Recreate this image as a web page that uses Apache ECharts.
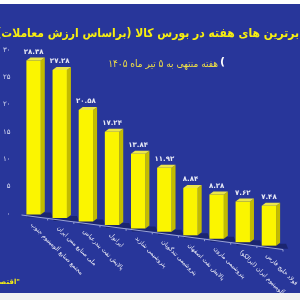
<!DOCTYPE html>
<html dir="rtl">
<head>
<meta charset="utf-8">
<script src="https://cdn.jsdelivr.net/npm/echarts@6/dist/echarts.min.js"></script>
<style>
  html, body { margin: 0; padding: 0; background: #28369a; }
  #chart { width: 300px; height: 300px; }
</style>
</head>
<body>
<div id="chart"></div>
<script>
const titleText = "برترین های هفته در بورس کالا (براساس ارزش معاملات)";
const subtitleText = "هفته منتهی به ۵ تیر ماه ۱۴۰۵";
const sourceText = "\"اقتصاد برخط\"";

const companies = [
  "مجتمع صنایع آلومینیوم جنوب",
  "ملی صنایع مس ایران",
  "پالایش نفت بندرعباس",
  "ایرانول",
  "پتروشیمی شازند",
  "پتروشیمی تندگویان",
  "پالایش نفت اصفهان",
  "پتروشیمی مارون",
  "آلومینیوم ایران (ایرالکو)",
  "فولاد خلیج فارس"
];
const values = [28.38, 27.28, 20.58, 17.24, 13.84, 11.92, 8.84, 8.28, 7.62, 7.48];
const yMin = 0, yMax = 30, yStep = 5;

const faDigits = "۰۱۲۳۴۵۶۷۸۹";
const toFa = (s) => String(s).replace(/\d/g, (d) => faDigits[+d]);

// fake perspective: the floor drops to the right
const SKEW = 0.132;
const DX = 4, DY = 3;

function renderBar(params, api) {
  const idx = api.value(0);
  const val = api.value(1);
  const base = api.coord([idx, 0]);
  const top = api.coord([idx, val]);
  const band = api.size([1, 0])[0];
  const left = params.coordSys.x;
  const w = band * 0.55;
  const cx = base[0] - 1;
  const drop = (x) => (x - left) * SKEW;
  const x0 = cx - w / 2, x1 = cx + w / 2;
  const yb = base[1] + drop(cx) - 1;
  const yt = top[1] + drop(cx);
  const bx0 = base[0] - band / 2, bx1 = base[0] + band / 2;

  return {
    type: "group",
    children: [
      { type: "polygon", shape: { points: [[x0, yb - 2], [x1 + DX + 6, yb - 2], [x1 + DX + 8, yb + 3], [x0 + 1, yb + 3]] },
        style: { fill: "#1b2570" } },
      { type: "line", shape: { x1: bx0, y1: base[1] + drop(bx0) + 1, x2: bx1, y2: base[1] + drop(bx1) + 1 },
        style: { stroke: "#9aa3d6", lineWidth: 1 } },
      { type: "line", shape: { x1: bx1, y1: base[1] + drop(bx1) + 1, x2: bx1, y2: base[1] + drop(bx1) + 3 },
        style: { stroke: "#9aa3d6", lineWidth: 1 } },
      { type: "polygon", shape: { points: [[x1, yt], [x1 + DX, yt - DY], [x1 + DX, yb - DY], [x1, yb]] },
        style: { fill: "#c2bb00" } },
      { type: "polygon", shape: { points: [[x0, yt], [x0 + DX, yt - DY], [x1 + DX, yt - DY], [x1, yt]] },
        style: { fill: "#ece64a" } },
      { type: "rect", shape: { x: x0, y: yt, width: w, height: yb - yt },
        style: { fill: "#fbf500" } },
      { type: "text", x: cx, y: yt - DY - 2,
        style: { text: toFa(val.toFixed(2)), align: "center", verticalAlign: "bottom",
                 fill: "#e6e8f5", font: "bold 7px 'DejaVu Sans'" } },
      { type: "text", x: cx - 2, y: yb + 9, rotation: -Math.PI / 4,
        style: { text: companies[idx], x: 0, y: 0, align: "left", verticalAlign: "middle",
                 fill: "#f0f0f8", font: "6px 'DejaVu Sans'" } }
    ]
  };
}

const chart = echarts.init(document.getElementById("chart"));
chart.setOption({
  backgroundColor: "#28369a",
  animation: false,
  title: [
    { text: titleText, right: 1, top: 28, padding: 0,
      textStyle: { color: "#f7ef10", fontSize: 12, fontWeight: "bold", fontFamily: "DejaVu Sans Condensed" } },
    { text: subtitleText, right: 82, top: 59, padding: 0,
      textStyle: { color: "#efdf45", fontSize: 10, fontWeight: "normal", fontFamily: "DejaVu Sans Condensed" } }
  ],
  graphic: [
    { type: "rect", left: 0, top: 0, shape: { width: 300, height: 4 }, style: { fill: "#ffffff" } },
    { type: "rect", left: 0, top: 293, shape: { width: 300, height: 7 }, style: { fill: "#f2f2f2" } },
    { type: "text", right: 75, top: 57, style: { text: ")", fill: "#ffffff", font: "bold 11px 'DejaVu Sans'" } },
    { type: "text", right: 280, top: 279, style: { text: sourceText, fill: "#f7ef10", font: "bold 7px 'DejaVu Sans'" } }
  ],
  grid: { left: 21, right: 17, top: 50, bottom: 86 },
  xAxis: {
    type: "category",
    data: companies,
    axisLine: { show: false },
    axisTick: { show: false },
    axisLabel: { show: false }
  },
  yAxis: {
    type: "value",
    min: yMin,
    max: yMax,
    interval: yStep,
    axisLine: { show: false },
    axisTick: { show: false },
    splitLine: { show: false },
    axisLabel: { color: "#d8dcf2", fontSize: 7, margin: 11, fontFamily: "DejaVu Sans", formatter: (v) => toFa(v) }
  },
  series: [
    {
      type: "custom",
      renderItem: renderBar,
      clip: false,
      data: values.map((v, i) => [i, v])
    }
  ]
});
</script>
</body>
</html>
